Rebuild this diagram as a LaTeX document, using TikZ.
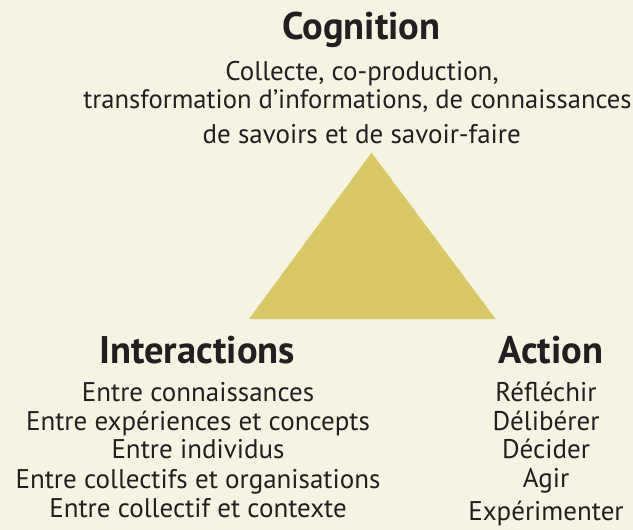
\documentclass[tikz,border=0pt]{standalone}
\usepackage{fontspec}
\setmainfont{PT Sans}
\definecolor{paper}{HTML}{F7F3E3}
\definecolor{ochre}{HTML}{D9C866}
\definecolor{ink}{HTML}{231F20}
\begin{document}
\begin{tikzpicture}[x=1pt,y=-1pt,
  title/.style={anchor=base,inner sep=0pt,text=ink,font=\fontsize{38.5}{42}\selectfont\bfseries},
  line/.style={anchor=base,inner sep=0pt,text=ink,font=\fontsize{27}{29}\selectfont}]
  % page
  \fill[paper] (0,0) rectangle (633,530);
  \useasboundingbox (0,0) rectangle (633,530);
  % central triangle
  \coordinate (apex) at (371.5,152.7);
  \coordinate (left) at (249,319);
  \coordinate (right) at (495.7,319);
  \fill[ochre] (apex) -- (left) -- (right) -- cycle;
  % Cognition
  \node[title] (cog) at (361.5,39.5) {Cognition};
  \node[line] (cog1) at (362,80) {Collecte, co-production,};
  \node[line,font=\fontsize{26.6}{29}\selectfont] (cog2) at (357.5,108) {transformation d’informations, de connaissances};
  \node[line] (cog3) at (361.7,143) {de savoirs et de savoir-faire};
  % Interactions
  \node[title] (inter) at (197,363) {Interactions};
  \node[line] (inter1) at (198,401.5) {Entre connaissances};
  \node[line] (inter2) at (198,430) {Entre expériences et concepts};
  \node[line] (inter3) at (198,458.5) {Entre individus};
  \node[line] (inter4) at (198,488) {Entre collectifs et organisations};
  \node[line] (inter5) at (198,517) {Entre collectif et contexte};
  % Action
  \node[title] (act) at (551,363) {Action};
  \node[line] (act1) at (546,401.5) {Réfléchir};
  \node[line] (act2) at (546,430) {Délibérer};
  \node[line] (act3) at (546,458.5) {Décider};
  \node[line] (act4) at (546,487.5) {Agir};
  \node[line] (act5) at (546,520.5) {Expérimenter};
\end{tikzpicture}
\end{document}
